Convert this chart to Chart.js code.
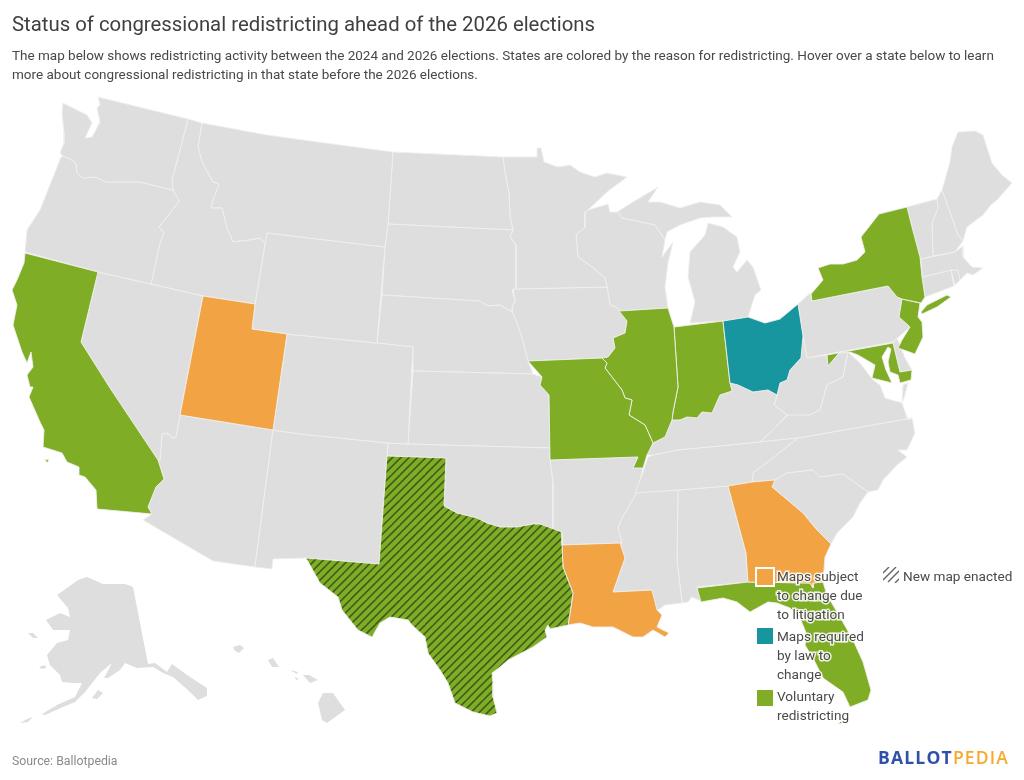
<!DOCTYPE html>
<html><head><meta charset="utf-8">
<style>
html,body{margin:0;padding:0;background:#fff}
#wrap{position:relative;width:1024px;height:780px;overflow:hidden;font-family:Roboto,sans-serif;color:#444}
canvas{position:absolute;left:0;top:0}
.t{position:absolute;white-space:nowrap}
#title{left:12px;top:11px;font-size:20.35px;line-height:26px;color:#404040}
#sub{left:12px;top:46px;font-size:13.5px;line-height:19px;color:#484848}
#src{left:12px;top:753px;font-size:12.3px;line-height:16px;color:#8a8a8a}
#logo{left:878px;top:746px;font-size:17.5px;line-height:22px;font-weight:700;letter-spacing:1.2px;color:#2f4fa8;font-family:"Open Sans",sans-serif}
#logo span{color:#f6a92f;font-weight:600}
.lg{left:777px;font-size:13.6px;line-height:19px;color:#4a4a4a;paint-order:stroke fill;-webkit-text-stroke:3px rgba(255,255,255,.85)}
.sw{position:absolute;width:16px;height:16px}
</style></head><body>
<div id="wrap">
<canvas id="c" width="1024" height="780"></canvas>
<div class="t" id="title">Status of congressional redistricting ahead of the 2026 elections</div>
<div class="t" id="sub">The map below shows redistricting activity between the 2024 and 2026 elections. States are colored by the reason for redistricting. Hover over a state below to learn<br>more about congressional redistricting in that state before the 2026 elections.</div>
<div class="sw" style="left:755px;top:567px;width:16px;height:16px;border:2px solid #fff;background:#f2a344"></div>
<div class="t lg" style="top:567px">Maps subject<br>to change due<br>to litigation</div>
<div class="sw" style="left:757px;top:628px;background:#17969f;outline:1px solid rgba(255,255,255,.6)"></div>
<div class="t lg" style="top:627px">Maps required<br>by law to<br>change</div>
<div class="sw" style="left:757px;top:690px;background:#7fad25;outline:1px solid rgba(255,255,255,.6)"></div>
<div class="t lg" style="top:687px">Voluntary<br>redistricting</div>
<div class="sw" id="hatchSw" style="left:883px;top:567px"><svg width="16" height="16" viewBox="0 0 16 16"><g stroke="#666" stroke-width="1.4"><line x1="0" y1="6" x2="6" y2="0"/><line x1="0" y1="13" x2="13" y2="0"/><line x1="5" y1="15" x2="16" y2="4"/><line x1="12" y1="16" x2="16" y2="12"/></g></svg></div>
<div class="t lg" style="left:903px;top:567px;-webkit-text-stroke:0">New map enacted</div>
<div class="t" id="src">Source: Ballotpedia</div>
<div class="t" id="logo">BALLOT<span>PEDIA</span></div>
</div>
<script src="https://cdn.jsdelivr.net/npm/chart.js@4/dist/chart.umd.js"></script>
<script>
// State outlines: map-unit vertices, as flat x,y lists.
const WA=[63,103,62,113,64,133,64,143,60,153,63,156,70,159,76,163,77,173,83,178,95,177,107,182,120,182,140,182,173,190,172,180,188,119,98,97,100,105,97,108,100,122,92,137,85,138,92,123,87,115];
const OR=[61,157,63,156,70,159,76,163,77,173,83,178,95,177,107,182,120,182,140,182,173,190,179,201,167,217,159,227,164,233,160,243,151,284,98,272,25,252,27,230,40,210];
const CA=[25,253,98,272,81,342,110,388,158,460,164,479,156,487,148,507,152,514,97,509,96,490,85,477,79,475,79,467,67,462,62,453,43,447,44,430,40,422,29,397,33,387,30,387,27,375,33,367,31,352,27,363,22,352,13,325,17,305,12,290,17,280,24,263];
const CA_ISLAND=[45,459,49,460,47,463];
const NV=[98,272,151,284,203,296,180,415,176,437,172,438,168,433,162,434,160,460,158,460,110,388,81,342];
const ID=[188,119,202,123,198,147,202,162,213,182,219,184,213,200,211,208,222,208,227,228,233,242,250,240,260,238,265,244,255,304,203,296,151,284,160,243,164,233,159,227,167,217,179,201,173,190,172,180];
const MT=[202,123,267,135,340,145,393,152,388,224,385,247,267,233,265,244,260,238,250,240,233,242,227,228,222,208,211,208,213,200,219,184,213,182,202,162,198,147];
const WY=[267,233,385,247,377,343,287,334,252,329,255,304,265,244];
const UT=[203,296,255,304,252,329,287,334,273,430,180,415];
const CO=[287,334,377,343,413,347,408,444,388,443,300,434,273,430];
const NM=[273,430,300,434,388,443,387,456,379,564,306,558,273,559,272,569,255,567];
const AZ=[180,415,273,430,255,567,213,561,143,520,152,514,148,507,156,487,164,479,158,460,160,460,162,434,168,433,172,438,176,437];
const TX=[387,456,446,458,444,506,457,513,477,518,487,523,500,527,517,527,533,524,540,524,562,532,562,545,563,567,573,593,570,613,568,625,550,629,548,625,545,630,547,637,533,647,508,660,500,667,492,673,493,683,493,697,497,713,490,716,473,712,455,703,448,683,440,670,428,653,425,637,412,625,408,620,390,617,380,623,372,637,358,630,342,610,338,597,320,583,306,558,379,564];
const OK=[388,443,408,444,550,448,550,460,553,483,553,530,540,524,533,524,517,527,500,527,487,523,477,518,457,513,444,506,446,458,387,456];
const KS=[413,371,533,374,542,377,540,385,549,395,550,448,408,444];
const NE=[382,295,479,301,488,306,500,305,512,312,517,323,522,338,528,361,533,374,413,371,413,347,377,343];
const SD=[388,224,513,230,510,237,516,245,516,288,512,290,515,300,512,308,512,312,500,305,488,306,479,301,382,295,385,247];
const ND=[393,152,503,157,505,173,509,193,510,217,513,230,388,224];
const MN=[503,157,537,157,537,148,541,148,544,162,558,167,570,165,580,172,595,177,607,173,627,177,607,192,588,210,585,212,585,227,576,235,578,257,592,267,605,278,607,287,513,289,516,288,516,245,510,237,513,230,510,217,509,193,505,173];
const IA=[513,289,607,287,610,305,618,308,627,321,625,333,613,338,615,348,608,357,602,358,528,361,522,338,517,323,512,312,512,308,515,300];
const MO=[528,361,602,358,607,363,605,368,622,390,625,398,632,400,629,415,645,425,653,443,647,455,643,468,633,468,638,457,550,460,549,395,540,385,542,377];
const WI=[588,210,608,204,610,212,618,212,622,218,655,225,665,240,662,257,673,242,668,263,665,287,668,308,619,311,618,308,610,305,607,287,605,278,592,267,578,257,576,235,585,227,585,212];
const MI_UPPER=[617,212,633,202,648,193,658,187,648,202,660,202,680,208,700,202,720,205,732,217,713,217,700,218,680,225,667,232,665,240,655,225,622,218];
const MI_LOWER=[708,223,723,227,737,237,740,252,733,267,737,272,747,260,753,267,761,290,755,295,748,317,723,321,690,323,695,302,688,277,690,252,698,243,705,235];
const IL=[619,311,668,308,674,327,678,387,673,412,672,420,665,437,653,443,645,425,629,415,632,400,625,398,622,390,605,368,607,363,602,358,608,357,615,348,613,338,625,333,627,321];
const IN=[674,327,723,321,730,383,732,391,720,395,712,413,702,412,697,418,687,417,680,420,672,420,673,412,678,387];
const OH=[723,321,748,317,765,323,780,319,798,304,803,336,801,358,790,370,787,380,780,383,777,395,768,390,753,392,738,385,730,383];
const KY=[730,383,738,385,753,392,768,390,777,395,774,405,787,415,773,430,760,442,677,450,653,455,647,455,653,443,665,437,672,420,680,420,687,417,697,418,702,412,712,413,720,395,732,391];
const TN=[653,455,677,450,760,442,798,438,770,460,753,473,752,482,728,486,678,490,635,493,642,475,648,457];
const VA=[760,442,773,430,788,415,810,415,820,410,827,385,843,377,848,352,860,363,873,380,880,385,885,398,902,403,908,420,912,418,798,438];
const VA_SHORE=[903,385,908,383,904,398,902,403];
const WV=[807,358,827,355,828,366,839,353,848,352,843,377,827,385,820,410,810,415,790,417,787,415,774,405,777,395,780,383,787,380,790,370,801,358,803,336];
const PA=[798,304,810,293,812,301,888,286,897,297,902,299,899,317,910,327,893,342,807,358,803,336];
const NY=[812,301,811,294,823,280,818,268,830,264,843,264,857,260,865,252,861,237,879,214,907,207,912,227,920,257,922,277,925,297,921,303,902,299,897,297,888,286];
const LONG_ISLAND=[921,312,927,305,947,295,951,297,937,307,922,314];
const NJ=[902,299,920,303,918,317,922,322,923,337,915,354,898,348,902,340,910,327,899,317];
const MD=[827,355,893,343,900,372,912,370,911,380,900,383,898,375,890,372,888,362,891,349,888,347,882,357,886,370,892,383,872,378,875,365,858,355,850,352,839,353,828,366];
const DE=[893,343,897,338,900,345,905,358,912,370,900,372];
const VT=[907,207,937,199,938,208,932,223,933,256,921,259,920,257,912,227];
const NH=[937,199,942,190,958,235,963,241,955,252,933,256,932,223,938,208];
const ME=[942,190,950,162,952,147,958,132,975,131,983,135,992,163,1002,175,1012,183,997,200,990,206,983,215,967,227,963,241,958,235];
const MA=[921,259,955,252,963,246,963,257,972,267,983,268,973,275,967,273,960,280,958,270,951,270,922,277];
const RI=[951,270,958,270,961,279,955,285];
const CT=[922,277,951,270,954,286,925,297];
const AR=[550,460,638,457,633,468,643,468,637,492,622,518,618,528,622,543,562,545,562,532,553,530,553,483];
const LA=[562,545,620,543,625,558,613,592,652,590,657,610,662,615,657,627,669,633,665,637,653,630,643,637,633,637,623,632,613,627,603,627,593,627,580,623,568,625,570,613,573,593,563,567];
const MS=[637,492,678,490,677,560,682,603,665,605,655,612,652,590,613,592,625,558,620,543,622,543,618,528,622,518];
const AL=[678,490,728,486,746,553,748,582,697,587,702,602,692,597,688,602,682,603,677,560];
const GA=[728,486,752,482,775,480,772,487,803,513,817,530,831,544,825,557,823,582,813,583,813,588,810,583,748,582,746,553];
const FL=[697,588,748,582,810,583,813,588,813,583,823,582,827,595,840,617,853,640,863,662,871,690,868,700,850,707,843,692,833,685,823,678,815,662,805,645,807,635,800,618,790,608,777,603,768,602,750,612,737,602,723,598,701,602];
const FL_KEYS=[838,724,842,720,843,723];
const SC=[772,487,775,480,787,473,813,470,820,477,843,474,868,492,860,503,853,517,837,533,831,544,817,530,803,513];
const NC=[798,438,912,418,915,433,907,450,898,450,907,457,897,465,883,480,878,490,868,492,843,474,820,477,813,470,787,473,775,480,752,482,753,473,770,460];
const AK=[87,577,103,584,125,584,133,587,148,664,155,663,167,672,172,664,190,677,207,688,207,696,198,700,185,687,173,677,163,673,153,667,137,668,125,663,120,670,108,678,104,678,112,663,100,673,85,692,75,702,63,707,45,715,42,714,57,705,75,697,82,683,73,683,62,682,60,675,50,665,47,655,57,643,68,640,70,630,53,630,46,620,60,613,70,617,68,608,57,595,67,588,78,580];
const AK_ISLANDS=[175,670,190,680,200,690,195,695,182,685,172,675];
const AK_ALEUTIANS=[20,723,27,719,33,717,28,722];
const AK_KODIAK=[92,698,98,690,103,693,97,699];
const AK_NUNIVAK=[39,667,45,665,46,668,42,669];
const AK_STLAWRENCE=[28,633,33,633,38,638,33,638];
const HI_BIG=[323,693,333,693,345,710,327,723,322,720,318,703];
const HI_MAUI=[303,675,309,675,318,680,310,683];
const HI_MOLOKAI=[290,670,298,672,297,674];
const HI_LANAI=[295,677,299,679,296,680];
const HI_OAHU=[268,660,273,658,279,667,272,667];
const HI_KAUAI=[233,647,240,645,244,648,239,653,235,651];

// Status by state
const litigation=[UT,LA,GA];
const requiredByLaw=[OH];
const voluntary=[CA,CA_ISLAND,MO,IL,IN,NY,LONG_ISLAND,NJ,MD,FL,FL_KEYS];
const voluntaryNewMap=[TX];
const noActivity=[WA,OR,NV,ID,MT,WY,CO,NM,AZ,OK,KS,NE,SD,ND,MN,IA,WI,MI_UPPER,MI_LOWER,KY,TN,VA,VA_SHORE,WV,PA,DE,VT,NH,ME,MA,RI,CT,AR,MS,AL,SC,NC];
const noActivityDetached=[AK,AK_ISLANDS,AK_ALEUTIANS,AK_KODIAK,AK_NUNIVAK,AK_STLAWRENCE,HI_BIG,HI_MAUI,HI_MOLOKAI,HI_LANAI,HI_OAHU,HI_KAUAI];

function hatch(bg,line){
  const n=25,p=document.createElement('canvas');p.width=p.height=n;
  const g=p.getContext('2d');g.fillStyle=bg;g.fillRect(0,0,n,n);
  g.strokeStyle=line;g.lineWidth=1.6;
  for(let k=-3;k<=6;k++){const o=k*n/3;g.beginPath();g.moveTo(o-n,n);g.lineTo(o+n,-n);g.stroke();}
  return g.createPattern(p,'repeat');
}
const toPoints=f=>{const o=[];for(let i=0;i<f.length;i+=2)o.push({x:f[i],y:f[i+1]});o.push({x:f[0],y:f[1]});return o;};
const ds=(shapes,fill,edge)=>shapes.map(s=>({data:toPoints(s),showLine:true,fill:'shape',backgroundColor:fill,borderColor:edge,borderWidth:edge==='transparent'?0:0.9,pointRadius:0,pointHoverRadius:0,tension:0,clip:false}));

new Chart(document.getElementById('c'),{
  type:'scatter',
  data:{datasets:[
    ...ds(voluntaryNewMap,hatch('#7fad25','#3f5c1c'),'#efefec'),
    ...ds(litigation,'#f2a344','#efefec'),
    ...ds(requiredByLaw,'#17969f','#efefec'),
    ...ds(voluntary,'#7fad25','#efefec'),
    ...ds(noActivity,'#dedede','#efefec'),
    ...ds(noActivityDetached,'#dedede','transparent')
  ]},
  options:{
    responsive:false,animation:false,
    layout:{padding:0},
    plugins:{legend:{display:false},title:{display:false},tooltip:{enabled:false}},
    events:[],
    scales:{
      x:{type:'linear',min:0,max:1024,display:false},
      y:{type:'linear',min:0,max:780,reverse:true,display:false}
    }
  }
});
</script>
</body></html>
